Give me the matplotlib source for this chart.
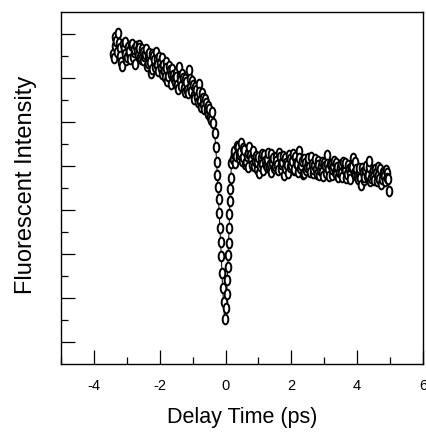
import numpy as np
import matplotlib
matplotlib.use("Agg")
import matplotlib.pyplot as plt
from matplotlib.path import Path
from matplotlib.ticker import MultipleLocator, FixedLocator

# Delay scan before time zero (ps) and fluorescence signal (arb. units)
pre_delay = [-3.42, -3.37, -3.32, -3.27, -3.22, -3.17, -3.12, -3.07, -3.02, -2.97,
             -2.92, -2.87, -2.82, -2.77, -2.72, -2.67, -2.62, -2.57, -2.52, -2.47,
             -2.42, -2.37, -2.32, -2.27, -2.22, -2.17, -2.12, -2.07, -2.02, -1.97,
             -1.92, -1.87, -1.82, -1.77, -1.72, -1.67, -1.62, -1.57, -1.52, -1.47,
             -1.42, -1.37, -1.32, -1.27, -1.22, -1.17, -1.12, -1.07, -1.02, -0.97,
             -0.92, -0.87, -0.82, -0.77, -0.72, -0.67, -0.62, -0.57, -0.52, -0.47,
             -0.42]
pre_signal = [14.10, 14.45, 14.70, 15.05, 14.35, 13.75, 14.55, 14.10, 13.80, 14.40,
              14.25, 14.50, 13.95, 14.30, 14.45, 14.05, 14.35, 13.85, 14.20, 14.00,
              14.30, 13.70, 14.15, 13.25, 14.10, 13.80, 14.20, 13.60, 13.95, 13.45,
              13.90, 13.30, 13.75, 12.85, 13.55, 13.20, 13.40, 12.95, 13.25, 12.70,
              13.50, 12.90, 13.20, 12.55, 12.95, 12.45, 13.35, 12.60, 12.85, 12.25,
              12.60, 12.15, 12.75, 11.95, 12.30, 11.80, 12.05, 11.55, 11.75, 11.25,
              11.45]

# Interleaved points of the second pass before time zero
pre2_delay = [-3.395, -3.345, -3.295, -3.245, -3.195, -3.145, -3.095, -3.045, -2.995, -2.945,
              -2.895, -2.845, -2.795, -2.745, -2.695, -2.645, -2.595, -2.545, -2.495, -2.445,
              -2.395, -2.345, -2.295, -2.245, -2.195, -2.145, -2.095, -2.045, -1.995, -1.945,
              -1.895, -1.845, -1.795, -1.745, -1.695, -1.645, -1.595, -1.545, -1.495, -1.445,
              -1.395, -1.345, -1.295, -1.245, -1.195, -1.145, -1.095, -1.045, -0.995, -0.945,
              -0.895, -0.845, -0.795, -0.745, -0.695, -0.645, -0.595, -0.545, -0.495, -0.445]
pre2_signal = [13.90, 14.85, 14.20, 14.60, 14.00, 13.55, 14.35, 14.65, 13.95, 14.15,
               13.85, 14.55, 14.20, 13.65, 14.25, 14.50, 13.95, 14.30, 13.80, 14.10,
               13.55, 14.05, 13.75, 13.40, 14.00, 13.50, 13.85, 13.30, 13.70, 13.20,
               13.60, 13.05, 13.45, 13.10, 13.35, 12.75, 13.15, 12.80, 13.05, 12.50,
               13.10, 12.65, 13.00, 12.35, 12.80, 12.30, 12.95, 12.40, 12.70, 12.05,
               12.45, 11.90, 12.35, 11.70, 12.10, 11.60, 11.85, 11.35, 11.60, 11.10]

# Sharp dip around zero delay
dip_delay = [-0.37, -0.33, -0.30, -0.27, -0.25, -0.23, -0.21, -0.19, -0.17, -0.15,
             -0.13, -0.11, -0.09, -0.06, -0.03, 0.02, 0.03, 0.05, 0.06, 0.08,
             0.09, 0.11, 0.12, 0.13, 0.15, 0.16, 0.18]
dip_signal = [10.95, 10.50, 9.85, 9.20, 8.60, 8.05, 7.50, 6.85, 6.20, 5.55,
              4.90, 4.15, 3.45, 2.80, 2.05, 2.55, 3.20, 3.80, 4.40, 4.95,
              5.50, 6.20, 6.80, 7.40, 7.95, 8.45, 9.15]

# Slowly decaying plateau after time zero
post_delay = [0.22, 0.27, 0.32, 0.37, 0.42, 0.47, 0.52, 0.57, 0.62, 0.67,
              0.72, 0.77, 0.82, 0.87, 0.92, 0.97, 1.02, 1.07, 1.12, 1.17,
              1.22, 1.27, 1.32, 1.37, 1.42, 1.47, 1.52, 1.57, 1.62, 1.67,
              1.72, 1.77, 1.82, 1.87, 1.92, 1.97, 2.02, 2.07, 2.12, 2.17,
              2.22, 2.27, 2.32, 2.37, 2.42, 2.47, 2.52, 2.57, 2.62, 2.67,
              2.72, 2.77, 2.82, 2.87, 2.92, 2.97, 3.02, 3.07, 3.12, 3.17,
              3.22, 3.27, 3.32, 3.37, 3.42, 3.47, 3.52, 3.57, 3.62, 3.67,
              3.72, 3.77, 3.82, 3.87, 3.92, 3.97, 4.02, 4.07, 4.12, 4.17,
              4.22, 4.27, 4.32, 4.37, 4.42, 4.47, 4.52, 4.57, 4.62, 4.67,
              4.72, 4.77, 4.82, 4.87, 4.92, 4.97]
post_signal = [9.30, 9.70, 9.45, 9.85, 9.55, 10.05, 9.40, 9.75, 9.20, 9.60,
               9.85, 9.30, 9.55, 9.00, 9.45, 9.20, 8.70, 9.35, 9.10, 9.50,
               9.05, 9.30, 8.95, 9.55, 9.15, 8.90, 9.40, 9.05, 9.60, 8.85,
               9.20, 8.60, 9.35, 9.05, 9.50, 8.95, 9.25, 8.80, 9.40, 9.10,
               9.70, 8.90, 9.25, 8.70, 9.15, 8.95, 9.35, 8.75, 9.10, 8.85,
               9.30, 8.65, 9.05, 8.80, 9.20, 8.55, 9.00, 9.50, 8.85, 9.10,
               8.60, 9.00, 8.75, 9.15, 8.50, 8.95, 8.70, 9.20, 8.80, 8.45,
               9.05, 8.70, 8.95, 9.35, 8.60, 8.85, 8.40, 8.90, 8.15, 8.75,
               8.50, 9.00, 8.60, 9.25, 8.45, 8.80, 8.35, 8.70, 8.95, 8.40,
               8.20, 8.75, 8.55, 8.80, 8.45, 7.85]

# Interleaved points of the second pass after time zero
post2_delay = [0.245, 0.295, 0.345, 0.395, 0.445, 0.495, 0.545, 0.595, 0.645, 0.695,
               0.745, 0.795, 0.845, 0.895, 0.945, 0.995, 1.045, 1.095, 1.145, 1.195,
               1.245, 1.295, 1.345, 1.395, 1.445, 1.495, 1.545, 1.595, 1.645, 1.695,
               1.745, 1.795, 1.845, 1.895, 1.945, 1.995, 2.045, 2.095, 2.145, 2.195,
               2.245, 2.295, 2.345, 2.395, 2.445, 2.495, 2.545, 2.595, 2.645, 2.695,
               2.745, 2.795, 2.845, 2.895, 2.945, 2.995, 3.045, 3.095, 3.145, 3.195,
               3.245, 3.295, 3.345, 3.395, 3.445, 3.495, 3.545, 3.595, 3.645, 3.695,
               3.745, 3.795, 3.845, 3.895, 3.945, 3.995, 4.045, 4.095, 4.145, 4.195,
               4.245, 4.295, 4.345, 4.395, 4.445, 4.495, 4.545, 4.595, 4.645, 4.695,
               4.745, 4.795, 4.845, 4.895, 4.945]
post2_signal = [9.55, 9.15, 9.90, 9.35, 9.65, 9.25, 9.80, 9.10, 9.45, 8.95,
                9.50, 9.05, 9.70, 9.25, 8.85, 9.40, 9.00, 9.55, 8.80, 9.25,
                8.95, 9.60, 9.10, 8.75, 9.35, 9.00, 9.25, 8.80, 9.40, 9.10,
                9.45, 8.90, 9.15, 8.70, 9.30, 9.05, 9.55, 8.85, 9.15, 8.75,
                9.35, 9.05, 8.65, 9.30, 8.80, 9.20, 8.95, 9.40, 8.70, 9.05,
                8.85, 9.25, 8.60, 9.00, 8.75, 9.15, 8.70, 9.10, 8.55, 9.05,
                8.85, 9.25, 8.65, 8.95, 8.75, 9.10, 8.50, 8.90, 9.15, 8.65,
                8.85, 8.40, 8.95, 8.70, 9.20, 8.55, 8.75, 8.45, 8.90, 8.35,
                8.80, 8.55, 8.95, 8.30, 8.70, 8.50, 8.85, 8.30, 8.60, 8.85,
                8.40, 8.65, 8.30, 8.70, 8.40]

x_ticks = [-4, -2, 0, 2, 4, 6]
x_ticklabels = ["-4", "-2", "0", "2", "4", "6"]

delay = np.concatenate([pre_delay, pre2_delay, dip_delay, post_delay, post2_delay])
signal = np.concatenate([pre_signal, pre2_signal, dip_signal, post_signal, post2_signal])
order = np.argsort(delay, kind="stable")
delay, signal = delay[order], signal[order]

plt.rcParams["font.family"] = ["Liberation Sans", "DejaVu Sans"]

fig = plt.figure(figsize=(4.26, 4.33), dpi=100)
ax = fig.add_axes([61 / 426, 1 - 364 / 433, (423 - 61) / 426, (364 - 12) / 433])

# tall open ellipse marker
circ = Path.unit_circle()
ellipse = Path(circ.vertices * np.array([0.58, 1.0]), circ.codes)

ax.plot(delay, signal, color="black", lw=0.7, marker=ellipse, markersize=7.0,
        markerfacecolor="white", markeredgecolor="black", markeredgewidth=1.4)

ax.set_xlim(-5, 6)
ax.set_ylim(0, 16)

ax.xaxis.set_major_locator(FixedLocator(x_ticks))
ax.set_xticklabels(x_ticklabels)
ax.xaxis.set_minor_locator(MultipleLocator(1))
ax.yaxis.set_major_locator(FixedLocator([1, 3, 5, 7, 9, 11, 13, 15]))
ax.yaxis.set_minor_locator(FixedLocator([2, 4, 6, 8, 10, 12, 14]))
ax.set_yticklabels([])

ax.tick_params(axis="both", which="major", direction="in", length=10, width=0.9,
               labelsize=10.5, pad=11)
ax.tick_params(axis="both", which="minor", direction="in", length=5, width=0.9)
ax.tick_params(axis="x", which="both", top=False)
ax.tick_params(axis="y", which="both", right=False)

for s in ax.spines.values():
    s.set_linewidth(1.0)

ax.set_xlabel("Delay Time (ps)", fontsize=15.5, labelpad=10)
ax.set_ylabel("Fluorescent Intensity", fontsize=17)
ax.yaxis.set_label_coords(-0.066, 0.51)

fig.savefig("out.png", dpi=100)
